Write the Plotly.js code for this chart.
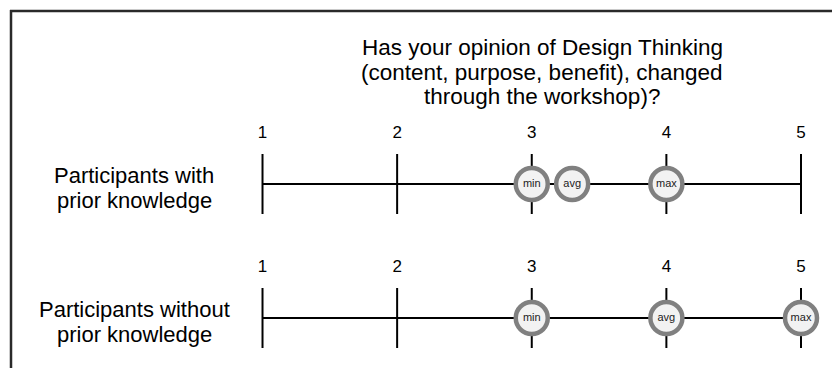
<!DOCTYPE html>
<html><head><meta charset="utf-8">
<script src="https://cdn.plot.ly/plotly-3.0.1.min.js"></script>
<style>html,body{margin:0;padding:0;background:#fff}#chart{width:832px;height:368px}</style>
</head><body><div id="chart"></div>
<script>
// Data
const scaleTicks = [1, 2, 3, 4, 5];
const groupLines = [["Participants with", "prior knowledge"], ["Participants without", "prior knowledge"]];
const groupRow = [1, 0];
const statLabels = ["min", "avg", "max"];
const withPrior = [3, 3.3, 4];
const withoutPrior = [3, 4, 5];
const titleLines = ["Has your opinion of Design Thinking", "(content, purpose, benefit), changed", "through the workshop)?"];

const FONT = 'Liberation Sans, Arial, sans-serif';
const series = [withPrior, withoutPrior];
const traces = [];
const pxPerY = 134;
const tickHalf = 30 / pxPerY, labelOff = 50 / pxPerY;
groupRow.forEach((row, gi) => {
  traces.push({x: [scaleTicks[0], scaleTicks[scaleTicks.length-1]], y: [row, row], mode: 'lines',
    line: {color: '#000', width: 2}, hoverinfo: 'skip', showlegend: false});
  const tx = [], ty = [];
  scaleTicks.forEach(t => { tx.push(t, t, null); ty.push(row - tickHalf, row + tickHalf, null); });
  traces.push({x: tx, y: ty, mode: 'lines', line: {color: '#000', width: 2}, hoverinfo: 'skip', showlegend: false});
  traces.push({x: scaleTicks, y: scaleTicks.map(() => row + labelOff), mode: 'text',
    text: scaleTicks.map(String), textfont: {family: FONT, size: 17, color: '#000'},
    hoverinfo: 'skip', showlegend: false});
  traces.push({x: series[gi], y: series[gi].map(() => row), mode: 'markers+text', text: statLabels,
    textposition: 'middle center',
    textfont: {family: FONT, size: 11, color: '#222'},
    marker: {size: 32, color: '#f2f2f2', line: {color: '#808080', width: 4.5}},
    hoverinfo: 'skip', showlegend: false, cliponaxis: false});
});

const annotations = [];
const lineGap = 25 / pxPerY;
groupLines.forEach((lines, gi) => {
  lines.forEach((t, li) => {
    annotations.push({xref: 'paper', yref: 'y', x: 134/832, y: groupRow[gi] + 0.5*lineGap - li*lineGap + (-4/pxPerY),
      text: t, showarrow: false, xanchor: 'center', yanchor: 'middle',
      font: {family: FONT, size: 22, color: '#000'}});
  });
});
titleLines.forEach((t, li) => {
  annotations.push({xref: 'paper', yref: 'paper', x: 542/832, y: 1 - (47.5 + li*24.5)/368, text: t, showarrow: false,
    xanchor: 'center', yanchor: 'middle', font: {family: FONT, size: 22.5, color: '#000'}});
});

const layout = {
  width: 832, height: 368, margin: {l: 0, r: 0, t: 0, b: 0},
  paper_bgcolor: '#fff', plot_bgcolor: '#fff',
  xaxis: {range: [-0.9499, 5.2302], visible: false, fixedrange: true},
  yaxis: {range: [-50/pxPerY, 1 + 184/pxPerY], visible: false, fixedrange: true},
  annotations: annotations,
  shapes: [
    {type: 'line', xref: 'paper', yref: 'paper', x0: 10/832, x1: 1, y0: 1 - 11/368, y1: 1 - 11/368, line: {color: '#2a2a2a', width: 2.5}},
    {type: 'line', xref: 'paper', yref: 'paper', x0: 11/832, x1: 11/832, y0: 1 - 10/368, y1: 0, line: {color: '#2a2a2a', width: 2.5}}
  ],
  showlegend: false
};
Plotly.newPlot('chart', traces, layout, {displayModeBar: false, staticPlot: true});
</script></body></html>
